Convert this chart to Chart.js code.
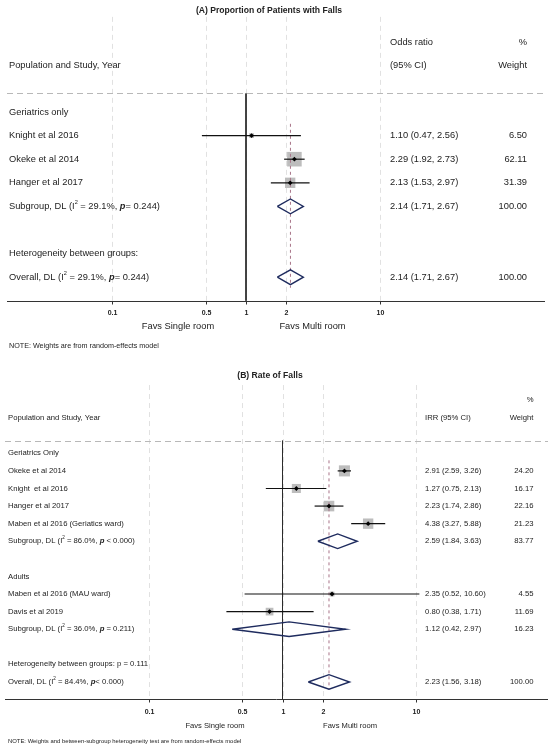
<!DOCTYPE html>
<html><head><meta charset="utf-8">
<script src="https://cdn.jsdelivr.net/npm/chart.js@4.4.1/dist/chart.umd.min.js"></script>
<style>
html,body{margin:0;padding:0;background:#fff;}
#wrap{position:relative;width:550px;height:750px;overflow:hidden;background:#fff;}
#wrap canvas{position:absolute;left:0;}
</style></head><body>
<div id="wrap">
<canvas id="cA" width="550" height="360" style="top:0px"></canvas>
<canvas id="cB" width="550" height="390" style="top:360px"></canvas>
</div>
<script>
// ---------------- data ----------------
const tickValues = [0.1, 0.5, 1, 2, 10];
const tickLabels = ['0.1', '0.5', '1', '2', '10'];

// (A) Proportion of Patients with Falls — odds ratios
const studiesA = ['Knight et al 2016', 'Okeke et al 2014', 'Hanger et al 2017'];
const orA      = [1.10, 2.29, 2.13];
const orLoA    = [0.47, 1.92, 1.53];
const orHiA    = [2.56, 2.73, 2.97];
const weightA  = [6.50, 62.11, 31.39];
const pooledNamesA = ['Subgroup, DL', 'Overall, DL'];
const pooledA      = [2.14, 2.14];
const pooledLoA    = [1.71, 1.71];
const pooledHiA    = [2.67, 2.67];
const pooledWA     = [100.00, 100.00];
const pooledI2A    = ['29.1', '29.1'];
const pooledPA     = ['= 0.244', '= 0.244'];

// (B) Rate of Falls — incidence rate ratios
const studiesB = ['Okeke et al 2014', 'Knight  et al 2016', 'Hanger et al 2017',
                  'Maben et al 2016 (Geriatics ward)', 'Maben et al 2016 (MAU ward)', 'Davis et al 2019'];
const irrB     = [2.91, 1.27, 2.23, 4.38, 2.35, 0.80];
const irrLoB   = [2.59, 0.75, 1.74, 3.27, 0.52, 0.38];
const irrHiB   = [3.26, 2.13, 2.86, 5.88, 10.60, 1.71];
const weightB  = [24.20, 16.17, 22.16, 21.23, 4.55, 11.69];
const pooledNamesB = ['Subgroup, DL', 'Subgroup, DL', 'Overall, DL'];
const pooledB      = [2.59, 1.12, 2.23];
const pooledLoB    = [1.84, 0.42, 1.56];
const pooledHiB    = [3.63, 2.97, 3.18];
const pooledWB     = [83.77, 16.23, 100.00];
const pooledI2B    = ['86.0', '36.0', '84.4'];
const pooledPB     = [' < 0.000', ' = 0.211', '< 0.000'];

// ---------------- layout ----------------
const FONT = '"Liberation Sans", Arial, Helvetica, sans-serif';
const TXT = '#222';

const panelA = {
  id: 'cA', height: 360, row0: 112, rowPx: 23.6,
  ax: {left: 7, right: 545, nullPx: 246, decPx: 134.5},
  title: '(A) Proportion of Patients with Falls', titleX: 269, titleRow: -4.28, titleSize: 8.6,
  fs: 9.3, labelX: 9, ciX: 390, wX: 527,
  headers: [
    {t: 'Odds ratio', x: 390, r: -2.966, a: 'left'},
    {t: '%', x: 527, r: -2.966, a: 'right'},
    {t: 'Population and Study, Year', x: 9, r: -1.99, a: 'left'},
    {t: '(95% CI)', x: 390, r: -1.99, a: 'left'},
    {t: 'Weight', x: 527, r: -1.99, a: 'right'}
  ],
  groups: [{t: 'Geriatrics only', r: 0}, {t: 'Heterogeneity between groups:', r: 6}],
  names: studiesA, est: orA, lo: orLoA, hi: orHiA, w: weightA, studyRows: [1, 2, 3],
  pNames: pooledNamesA, pEst: pooledA, pLo: pooledLoA, pHi: pooledHiA, pW: pooledWA,
  pI2: pooledI2A, pP: pooledPA, poolRows: [4, 7],
  overallIdx: 1, dashFrom: 0.5, dashTo: 7.45,
  gridTop: -4.03, headerRow: -0.784, axisRow: 7.996, axisL: 7, axisR: 545,
  tickRow: 8.53, tickSize: 7, favsRow: 9.10, favsSize: 9.3, favsX: [178, 312.5],
  noteRow: 9.90, noteSize: 7.2, noteX: 9, note: 'NOTE: Weights are from random-effects model',
  sqK: 1.85, diaHalfPx: 7.4
};

const panelB = {
  id: 'cB', height: 390, row0: 93.3, rowPx: 17.59,
  ax: {left: 5, right: 548, nullPx: 282.5, decPx: 133.5},
  title: '(B) Rate of Falls', titleX: 270, titleRow: -4.41, titleSize: 8.6,
  fs: 7.7, labelX: 8, ciX: 425, wX: 533.5,
  headers: [
    {t: '%', x: 533.5, r: -3.03, a: 'right'},
    {t: 'Population and Study, Year', x: 8, r: -2.0, a: 'left'},
    {t: 'IRR (95% CI)', x: 425, r: -2.0, a: 'left'},
    {t: 'Weight', x: 533.5, r: -2.0, a: 'right'}
  ],
  groups: [{t: 'Geriatrics Only', r: 0}, {t: 'Adults', r: 7}, {t: 'Heterogeneity between groups: p = 0.111', r: 12}],
  names: studiesB, est: irrB, lo: irrLoB, hi: irrHiB, w: weightB, studyRows: [1, 2, 3, 4, 8, 9],
  pNames: pooledNamesB, pEst: pooledB, pLo: pooledLoB, pHi: pooledHiB, pW: pooledWB,
  pI2: pooledI2B, pP: pooledPB, poolRows: [5, 10, 13],
  overallIdx: 2, dashFrom: 0.4, dashTo: 13.42,
  gridTop: -3.88, headerRow: -0.716, axisRow: 13.985, axisL: 5, axisR: 548,
  tickRow: 14.69, tickSize: 7, favsRow: 15.5, favsSize: 7.6, favsX: [215, 350],
  noteRow: 16.40, noteSize: 5.9, noteX: 8,
  note: 'NOTE: Weights and between-subgroup heterogeneity test are from random-effects model',
  sqK: 2.25, diaHalfPx: 7.3
};

// ---------------- drawing helpers ----------------
function drawRich(ctx, x, y, segs, size) {
  let cx = x;
  segs.forEach(s => {
    if (s.sup) ctx.font = (size * 0.6) + 'px ' + FONT;
    else if (s.it) ctx.font = 'italic bold ' + size + 'px ' + FONT;
    else ctx.font = size + 'px ' + FONT;
    ctx.textAlign = 'left';
    ctx.fillText(s.t, cx, s.sup ? y - size * 0.42 : y);
    cx += ctx.measureText(s.t).width;
  });
}
function fmt(e, l, h) { return e.toFixed(2) + ' (' + l.toFixed(2) + ', ' + h.toFixed(2) + ')'; }

function makePlugin(P) {
  return {
    id: 'forest_' + P.id,
    beforeDatasetsDraw(chart) {
      const ctx = chart.ctx, X = chart.scales.x, Y = chart.scales.y;
      ctx.save();
      ctx.strokeStyle = '#d9d9d9'; ctx.lineWidth = 0.8; ctx.setLineDash([5, 4]);
      tickValues.forEach(v => {
        const x = Math.round(X.getPixelForValue(v)) + 0.5;
        ctx.beginPath(); ctx.moveTo(x, Y.getPixelForValue(P.gridTop)); ctx.lineTo(x, Y.getPixelForValue(P.axisRow)); ctx.stroke();
      });
      ctx.strokeStyle = '#b8b8b8'; ctx.lineWidth = 1; ctx.setLineDash([6, 4]);
      const hy = Math.round(Y.getPixelForValue(P.headerRow)) + 0.5;
      ctx.beginPath(); ctx.moveTo(P.axisL, hy); ctx.lineTo(P.axisR, hy); ctx.stroke();
      ctx.restore();
    },
    afterDraw(chart) {
      const ctx = chart.ctx, X = chart.scales.x, Y = chart.scales.y;
      ctx.save();
      ctx.setLineDash([]);
      const ay = Math.round(Y.getPixelForValue(P.axisRow)) + 0.5;
      ctx.strokeStyle = '#333'; ctx.lineWidth = 1;
      ctx.beginPath(); ctx.moveTo(P.axisL, ay); ctx.lineTo(P.axisR, ay); ctx.stroke();
      ctx.fillStyle = TXT; ctx.textBaseline = 'middle';
      ctx.font = 'bold ' + P.tickSize + 'px ' + FONT; ctx.textAlign = 'center';
      tickValues.forEach((v, i) => {
        const x = Math.round(X.getPixelForValue(v)) + 0.5;
        ctx.beginPath(); ctx.moveTo(x, ay); ctx.lineTo(x, ay + 3); ctx.stroke();
        ctx.fillText(tickLabels[i], x, Y.getPixelForValue(P.tickRow));
      });
      ctx.font = P.favsSize + 'px ' + FONT;
      ctx.fillText('Favs Single room', P.favsX[0], Y.getPixelForValue(P.favsRow));
      ctx.fillText('Favs Multi room', P.favsX[1], Y.getPixelForValue(P.favsRow));
      ctx.textAlign = 'left'; ctx.font = P.noteSize + 'px ' + FONT;
      ctx.fillText(P.note, P.noteX, Y.getPixelForValue(P.noteRow));
      ctx.font = 'bold ' + P.titleSize + 'px ' + FONT; ctx.textAlign = 'center';
      ctx.fillText(P.title, P.titleX, Y.getPixelForValue(P.titleRow));
      ctx.font = P.fs + 'px ' + FONT;
      P.headers.forEach(h => { ctx.textAlign = h.a; ctx.fillText(h.t, h.x, Y.getPixelForValue(h.r)); });
      ctx.textAlign = 'left';
      P.groups.forEach(g => ctx.fillText(g.t, P.labelX, Y.getPixelForValue(g.r)));
      P.names.forEach((n, i) => {
        const y = Y.getPixelForValue(P.studyRows[i]);
        ctx.font = P.fs + 'px ' + FONT;
        ctx.textAlign = 'left';
        ctx.fillText(n, P.labelX, y);
        ctx.fillText(fmt(P.est[i], P.lo[i], P.hi[i]), P.ciX, y);
        ctx.textAlign = 'right';
        ctx.fillText(P.w[i].toFixed(2), P.wX, y);
      });
      P.pNames.forEach((n, i) => {
        const y = Y.getPixelForValue(P.poolRows[i]);
        drawRich(ctx, P.labelX, y, [
          {t: n + ' (I'}, {t: '2', sup: true}, {t: ' = ' + P.pI2[i] + '%, '}, {t: 'p', it: true}, {t: P.pP[i] + ')'}
        ], P.fs);
        ctx.font = P.fs + 'px ' + FONT;
        ctx.textAlign = 'left';
        ctx.fillText(fmt(P.pEst[i], P.pLo[i], P.pHi[i]), P.ciX, y);
        ctx.textAlign = 'right';
        ctx.fillText(P.pW[i].toFixed(2), P.wX, y);
      });
      ctx.restore();
    }
  };
}

function buildDatasets(P) {
  const ds = [];
  const h = P.diaHalfPx / P.rowPx;
  ds.push({type: 'line', data: [{x: 1, y: P.headerRow}, {x: 1, y: P.axisRow}],
    borderColor: '#2b2b2b', borderWidth: 1, pointRadius: 0, fill: false, order: 9});
  ds.push({type: 'scatter', data: P.est.map((v, i) => ({x: v, y: P.studyRows[i]})),
    pointStyle: 'rect', pointRadius: P.w.map(w => P.sqK * Math.sqrt(w) / Math.SQRT2),
    backgroundColor: '#bdbdbd', pointBorderWidth: 0, borderWidth: 0, order: 8});
  const oe = P.pEst[P.overallIdx];
  ds.push({type: 'line', data: [{x: oe, y: P.dashFrom}, {x: oe, y: P.dashTo}],
    borderColor: '#a87488', borderDash: [3, 3], borderWidth: 1, pointRadius: 0, fill: false, order: 7});
  P.est.forEach((v, i) => ds.push({type: 'line',
    data: [{x: P.lo[i], y: P.studyRows[i]}, {x: P.hi[i], y: P.studyRows[i]}],
    borderColor: '#111', borderWidth: 1.2, pointRadius: 0, fill: false, order: 5}));
  P.pEst.forEach((v, i) => {
    const r = P.poolRows[i];
    ds.push({type: 'line',
      data: [{x: P.pLo[i], y: r}, {x: v, y: r - h}, {x: P.pHi[i], y: r}, {x: v, y: r + h}, {x: P.pLo[i], y: r}],
      borderColor: '#1e2b5e', borderWidth: 1.4, borderJoinStyle: 'miter', pointRadius: 0, fill: false, order: 4});
  });
  ds.push({type: 'scatter', data: P.est.map((v, i) => ({x: v, y: P.studyRows[i]})),
    pointStyle: 'rectRot', pointRadius: 2.4, backgroundColor: '#000', pointBorderWidth: 0, borderWidth: 0, order: 1});
  return ds;
}

function build(P) {
  const lmin = -(P.ax.nullPx - P.ax.left) / P.ax.decPx;
  const lmax = (P.ax.right - P.ax.nullPx) / P.ax.decPx;
  const rMin = -P.row0 / P.rowPx;
  const rMax = (P.height - P.row0) / P.rowPx;
  new Chart(document.getElementById(P.id), {
    type: 'scatter',
    data: {datasets: buildDatasets(P)},
    options: {
      responsive: false, animation: false, events: [],
      layout: {autoPadding: false, padding: {left: P.ax.left, right: 550 - P.ax.right, top: 0, bottom: 0}},
      plugins: {legend: {display: false}, tooltip: {enabled: false}},
      scales: {
        x: {type: 'logarithmic', min: Math.pow(10, lmin), max: Math.pow(10, lmax), bounds: 'data', display: false},
        y: {type: 'linear', reverse: true, min: rMin, max: rMax, bounds: 'data', display: false}
      }
    },
    plugins: [makePlugin(P)]
  });
}
build(panelA);
build(panelB);
</script>
</body></html>
